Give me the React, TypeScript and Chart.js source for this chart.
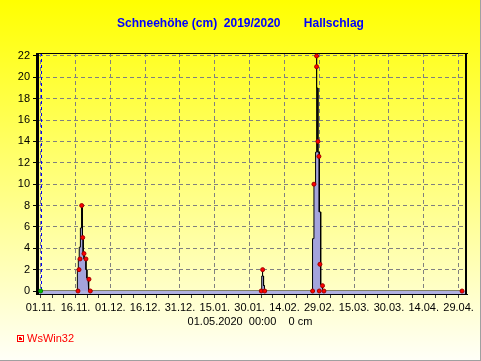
import React, { useEffect, useRef } from 'react';
import { Chart, registerables } from 'chart.js';

Chart.register(...registerables);

const FONT = '"Liberation Sans", Arial, sans-serif';

const titleText = 'Schneehöhe (cm)  2019/2020       Hallschlag';
const footerText = '01.05.2020  00:00    0 cm';
const logoText = 'WsWin32';

// x axis: days since 01.11.2019 00:00
const xLabelDays = [0, 15, 30, 45, 60, 75, 90, 105, 120, 135, 150, 165, 180];
const xLabels = ['01.11.', '16.11.', '01.12.', '16.12.', '31.12.', '15.01.', '30.01.', '14.02.', '29.02.', '15.03.', '30.03.', '14.04.', '29.04.'];
const xMinorDays = [0, 5, 10, 15, 20, 25, 30, 35, 40, 45, 50, 55, 60, 65, 70, 75, 80, 85, 90, 95, 100, 105, 110, 115, 120, 125, 130, 135, 140, 145, 150, 155, 160, 165, 170, 175, 180];
const yTicks = [0, 2, 4, 6, 8, 10, 12, 14, 16, 18, 20, 22];

// snow depth outline (day, cm)
const areaDays = [0, 15.8, 15.8, 16.2, 16.2, 16.6, 16.6, 17.1, 17.1, 17.4, 17.4, 17.7, 17.7, 17.8, 17.8, 18.1, 18.1, 18.3, 18.3, 18.7, 18.7, 19.5, 19.5, 19.9, 19.9, 20.4, 20.4, 20.8, 20.8,
  95.0, 95.0, 95.3, 95.3, 95.5, 95.5, 95.6, 95.6, 96.0, 96.0, 96.4, 96.4,
  117.1, 117.1, 117.7, 117.7, 118.4, 118.4, 118.7, 118.7, 118.85, 118.85, 118.95, 118.95, 119.4, 119.4, 120.0, 120.0, 120.6, 120.6, 121.4, 121.4,
  181.5];
const areaDepths = [0, 0, 2, 2, 3, 3, 4.1, 4.1, 5.9, 5.9, 6.5, 6.5, 8, 8, 6.5, 6.5, 5, 5, 3.5, 3.5, 3, 3, 2, 2, 1.2, 1.2, 0.4, 0.4, 0,
  0, 0.5, 0.5, 1.4, 1.4, 2, 2, 1.4, 1.4, 0.5, 0.5, 0,
  0, 4.9, 4.9, 10, 10, 13, 13, 19, 19, 22, 22, 19, 19, 13, 13, 7.4, 7.4, 0.6, 0.6, 0,
  0];

// measurement points (red)
const pointDays = [16.06, 16.5, 16.93, 17.66, 18.09, 18.65, 19.5, 20.8, 21.37,
  95.0, 95.6, 96.5,
  117.13, 117.7, 118.85, 118.85, 119.42, 119.85, 120.0, 120.28, 121.4, 122.0,
  181.5];
const pointDepths = [0, 2, 3, 8, 5, 3.5, 3, 1.1, 0,
  0, 2, 0,
  0, 10, 22, 21, 14, 12.6, 0, 2.5, 0.5, 0,
  0];

const startDays = [0];
const startDepths = [0];

const decor = {
  id: 'decor',
  beforeDraw(chart: any) {
    const { ctx, width, height } = chart;
    ctx.save();
    const g = ctx.createLinearGradient(0, 0, 0, height);
    g.addColorStop(0, '#ffff00');
    g.addColorStop(1, '#fffff8');
    ctx.fillStyle = g;
    ctx.fillRect(0, 0, width, height);
    ctx.fillStyle = '#a0a0a0';
    ctx.fillRect(width - 1, 0, 1, height);
    ctx.fillRect(0, height - 1, width, 1);
    ctx.restore();
  },
  beforeDatasetsDraw(chart: any) {
    const { ctx, chartArea: a, scales } = chart;
    ctx.save();
    const x0 = Math.round(scales.x.getPixelForValue(0)) + 0.5;
    ctx.strokeStyle = '#0000ff';
    ctx.lineWidth = 1;
    ctx.setLineDash([3, 3]);
    ctx.beginPath();
    ctx.moveTo(x0, a.top);
    ctx.lineTo(x0, a.bottom);
    ctx.stroke();
    ctx.setLineDash([]);
    ctx.fillStyle = '#b0b0e0';
    ctx.fillRect(a.left, a.bottom, a.right - a.left, 3);
    ctx.fillStyle = '#000000';
    ctx.fillRect(a.left - 3, a.bottom + 3, a.right - a.left + 5, 1);
    ctx.fillRect(a.left - 3, a.top, 3, a.bottom + 4 - a.top);
    ctx.fillRect(a.left - 3, a.top, a.right - a.left + 5, 1);
    ctx.fillRect(a.right - 1, a.top, 2, a.bottom + 4 - a.top);
    ctx.restore();
  },
  afterDraw(chart: any) {
    const { ctx } = chart;
    ctx.save();
    ctx.font = '11px ' + FONT;
    ctx.fillStyle = '#000000';
    ctx.textAlign = 'center';
    ctx.textBaseline = 'middle';
    ctx.fillText(footerText, 250, 322);
    // logo
    ctx.strokeStyle = '#ff0000';
    ctx.lineWidth = 1;
    ctx.strokeRect(17.5, 335.5, 6, 6);
    ctx.fillStyle = '#ff0000';
    ctx.fillRect(19, 337, 2, 3);
    ctx.fillRect(21, 338, 1, 2);
    ctx.textAlign = 'left';
    ctx.fillText(logoText, 27, 339);
    ctx.restore();
  },
};

export default function App() {
  const ref = useRef<HTMLCanvasElement>(null);
  useEffect(() => {
    document.body.style.margin = '0';
    const canvas = ref.current;
    if (!canvas) return;
    const font = { family: FONT, size: 11 };
    const chart = new Chart(canvas, {
      type: 'line',
      data: {
        datasets: [
          {
            type: 'scatter',
            data: startDays.map((d, i) => ({ x: d, y: startDepths[i] })),
            pointRadius: 2,
            pointBackgroundColor: '#00c000',
            pointBorderColor: '#008000',
            pointBorderWidth: 1,
            showLine: false,
            clip: false,
            order: 0,
          } as any,
          {
            type: 'scatter',
            data: pointDays.map((d, i) => ({ x: d, y: pointDepths[i] })),
            pointRadius: 2,
            pointBackgroundColor: '#ff0000',
            pointBorderColor: '#a00000',
            pointBorderWidth: 1,
            showLine: false,
            clip: false,
            order: 1,
          } as any,
          {
            type: 'line',
            data: areaDays.map((d, i) => ({ x: d, y: areaDepths[i] })),
            borderColor: '#000000',
            borderWidth: 1,
            backgroundColor: '#a4a4dc',
            fill: 'origin',
            pointRadius: 0,
            tension: 0,
            order: 2,
          } as any,
        ],
      },
      options: {
        responsive: false,
        animation: false,
        devicePixelRatio: 1,
        layout: { padding: 0 },
        plugins: {
          legend: { display: false },
          tooltip: { enabled: false },
          title: {
            display: true,
            text: titleText,
            color: '#0000ff',
            font: { family: FONT, size: 12, weight: 'bold' },
            padding: { top: 16, bottom: 22.6 },
          },
        },
        scales: {
          x: {
            type: 'linear',
            min: -0.73,
            max: 183.2,
            afterBuildTicks: (s: any) => {
              s.ticks = xMinorDays.map((v) => ({ value: v }));
            },
            afterFit: (s: any) => {
              s.height = 70;
            },
            grid: {
              color: (c: any) => (c.tick && xLabelDays.indexOf(c.tick.value) >= 0 ? '#808080' : 'rgba(0,0,0,0)'),
              tickColor: '#404040',
              tickLength: 7,
              lineWidth: 1,
            },
            border: { display: false, dash: [4, 3] },
            ticks: {
              autoSkip: false,
              minRotation: 0,
              maxRotation: 0,
              padding: 3,
              color: '#000000',
              font,
              callback: (v: any) => {
                const i = xLabelDays.indexOf(Number(v));
                return i >= 0 ? xLabels[i] : '';
              },
            },
          },
          y: {
            type: 'linear',
            min: 0,
            max: 22.28,
            afterBuildTicks: (s: any) => {
              s.ticks = yTicks.map((v) => ({ value: v }));
            },
            afterFit: (s: any) => {
              s.width = 39;
            },
            grid: { color: '#808080', tickColor: '#000000', tickLength: 6, lineWidth: 1 },
            border: { display: false, dash: [4, 3] },
            ticks: { padding: 3, color: '#000000', font, callback: (v: any) => String(v) },
          },
          yr: {
            type: 'linear',
            position: 'right',
            min: 0,
            max: 22.28,
            grid: { display: false },
            border: { display: false },
            ticks: { display: false },
            afterFit: (s: any) => {
              s.width = 15;
            },
          },
        },
      } as any,
      plugins: [decor],
    });
    return () => chart.destroy();
  }, []);
  return <canvas ref={ref} width={481} height={361} style={{ display: 'block' }} />;
}
